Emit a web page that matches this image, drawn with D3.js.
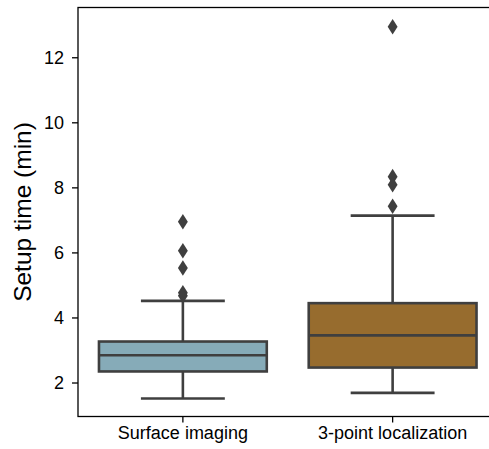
<!DOCTYPE html>
<html>
<head>
<meta charset="utf-8">
<script src="https://cdn.jsdelivr.net/npm/d3@7"></script>
<style>
  body { margin: 0; background: #fff; }
  svg { font-family: "Liberation Sans", Arial, sans-serif; }
</style>
</head>
<body>
<svg id="svg" width="489" height="449"></svg>
<script>
// data
const categories = ['Surface imaging', '3-point localization'];
const q1 = [2.34, 2.46];
const medians = [2.84, 3.45];
const q3 = [3.26, 4.44];
const whiskLow = [1.51, 1.68];
const whiskHigh = [4.51, 7.13];
const outliers = [[6.94, 6.05, 5.52, 4.76, 4.67], [12.94, 8.33, 8.08, 7.42]];
const colors = ['#86abb8', '#976c2e'];
const yTicks = [2, 4, 6, 8, 10, 12];

const svg = d3.select('#svg');
const margin = { top: 7.5, left: 78, bottom: 416.5, right: 497.5 };
const lineColor = '#3f3f3f';

const x = d3.scaleBand()
	.domain(categories)
	.range([margin.left, margin.right])
	.paddingInner(0).paddingOuter(0);
const y = d3.scaleLinear()
	.domain([0.955, 13.53])
	.range([margin.bottom, margin.top]);

const bw = x.bandwidth();
const boxW = bw * 0.8;

const boxes = svg.append('g');
categories.forEach((c, i) => {
	const cx = x(c) + bw / 2;
	const g = boxes.append('g');
	// whiskers
	g.append('line').attr('x1', cx).attr('x2', cx)
		.attr('y1', y(q3[i])).attr('y2', y(whiskHigh[i]));
	g.append('line').attr('x1', cx).attr('x2', cx)
		.attr('y1', y(q1[i])).attr('y2', y(whiskLow[i]));
	g.append('line').attr('x1', cx - boxW / 4).attr('x2', cx + boxW / 4)
		.attr('y1', y(whiskHigh[i])).attr('y2', y(whiskHigh[i]));
	g.append('line').attr('x1', cx - boxW / 4).attr('x2', cx + boxW / 4)
		.attr('y1', y(whiskLow[i])).attr('y2', y(whiskLow[i]));
	// box
	g.append('rect')
		.attr('x', cx - boxW / 2).attr('width', boxW)
		.attr('y', y(q3[i])).attr('height', y(q1[i]) - y(q3[i]))
		.attr('fill', colors[i]);
	g.append('line').attr('x1', cx - boxW / 2).attr('x2', cx + boxW / 2)
		.attr('y1', y(medians[i])).attr('y2', y(medians[i]));
	g.selectAll('line, rect')
		.attr('stroke', lineColor).attr('stroke-width', 2.6);
	// outliers (diamonds)
	g.selectAll('path.out')
		.data(outliers[i])
		.enter().append('path')
		.attr('class', 'out')
		.attr('d', d3.symbol(d3.symbolDiamond, 70)())
		.attr('transform', d => `translate(${cx},${y(d)}) scale(1.1,1)`)
		.attr('fill', lineColor);
});

// axes
const yAxis = svg.append('g')
	.attr('transform', `translate(${margin.left},0)`)
	.call(d3.axisLeft(y).tickValues(yTicks).tickSize(6).tickPadding(8));
const xAxis = svg.append('g')
	.attr('transform', `translate(0,${margin.bottom})`)
	.call(d3.axisBottom(x).tickSize(6).tickPadding(4));
[yAxis, xAxis].forEach(a => {
	a.select('.domain').remove();
	a.selectAll('line').attr('stroke', '#000').attr('stroke-width', 1.3);
	a.selectAll('text').attr('fill', '#000').style('font-size', '18px')
		.style('font-family', '"Liberation Sans", Arial, sans-serif');
});

// frame
svg.append('rect')
	.attr('x', margin.left).attr('y', margin.top)
	.attr('width', margin.right - margin.left).attr('height', margin.bottom - margin.top)
	.attr('fill', 'none').attr('stroke', '#000').attr('stroke-width', 1.3);

svg.append('text')
	.attr('transform', `translate(31,${(margin.top + margin.bottom) / 2}) rotate(-90)`)
	.attr('text-anchor', 'middle')
	.style('font-size', '24.5px')
	.text('Setup time (min)');
</script>
</body>
</html>
